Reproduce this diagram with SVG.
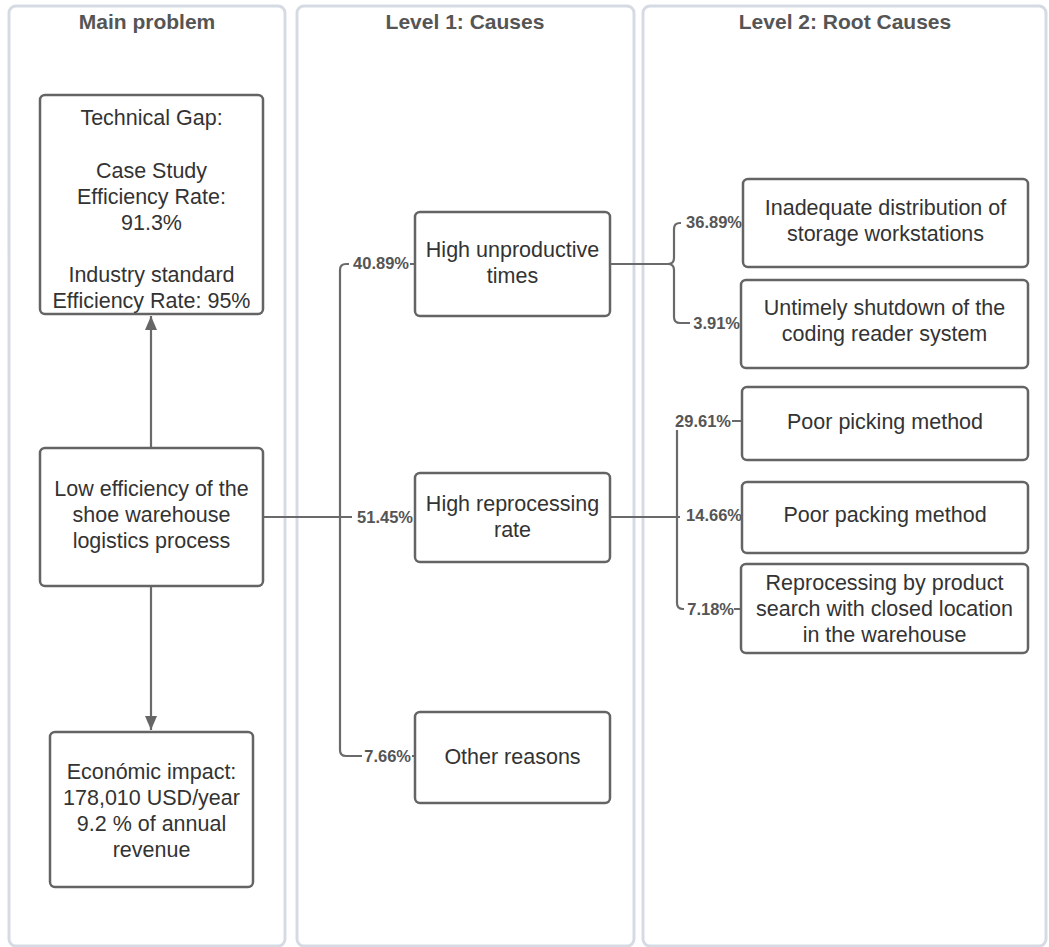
<svg xmlns="http://www.w3.org/2000/svg" width="1049" height="947" viewBox="0 0 1049 947">
<defs>
<style>
.lane{fill:#fff;stroke:#d6dbe3;stroke-width:3}
.hdr{font-family:"Liberation Sans",Arial,sans-serif;font-weight:bold;font-size:21px;fill:#555;text-anchor:middle}
.box{fill:#fff;stroke:#646464;stroke-width:2.5}
.t{font-family:"Liberation Sans",Arial,sans-serif;font-size:21.5px;fill:#333;text-anchor:middle}
.ln{fill:none;stroke:#6a6a6a;stroke-width:2.2}
.lb{font-family:"Liberation Sans",Arial,sans-serif;font-weight:bold;font-size:16.5px;fill:#555;text-anchor:end}
.lbg{fill:#fff}
</style>
<marker id="ah" viewBox="0 0 14 12" refX="14" refY="6" markerWidth="14" markerHeight="12" markerUnits="userSpaceOnUse" orient="auto">
<path d="M0,0 L14,6 L0,12 z" fill="#666"/>
</marker>
</defs>
<rect width="1049" height="947" fill="#fff"/>
<g id="lanes">
<rect class="lane" x="9" y="6" width="276" height="940" rx="7"/>
<rect class="lane" x="297" y="6" width="337" height="940" rx="7"/>
<rect class="lane" x="643" y="6" width="403" height="940" rx="7"/>
<text class="hdr" x="147" y="29">Main problem</text>
<text class="hdr" x="465" y="29">Level 1: Causes</text>
<text class="hdr" x="845" y="29">Level 2: Root Causes</text>
</g>
<g id="connectors">
<line class="ln" x1="151" y1="448" x2="151" y2="316" marker-end="url(#ah)"/>
<line class="ln" x1="151" y1="586" x2="151" y2="730" marker-end="url(#ah)"/>
<path class="ln" d="M263,517 H415"/>
<path class="ln" d="M415,264 H346 Q340,264 340,270 V750 Q340,756 346,756 H415"/>
<path class="ln" d="M610,264 H668 Q674,264 674,258 V229 Q674,223 680,223 H743"/>
<path class="ln" d="M668,264 Q674,264 674,270 V317 Q674,323 680,323 H741"/>
<path class="ln" d="M610,517 H742"/>
<path class="ln" d="M677,517 V427 Q677,421 683,421 H742"/>
<path class="ln" d="M677,517 V603 Q677,609 683,609 H741"/>
<rect class="lbg" x="349" y="255" width="61" height="17"/>
<text class="lb" x="409" y="269">40.89%</text>
<rect class="lbg" x="352" y="509" width="62" height="17"/>
<text class="lb" x="413" y="523">51.45%</text>
<rect class="lbg" x="362" y="748" width="50" height="17"/>
<text class="lb" x="411" y="762">7.66%</text>
<rect class="lbg" x="681" y="214" width="61" height="17"/>
<text class="lb" x="742" y="228">36.89%</text>
<rect class="lbg" x="690" y="315" width="50" height="17"/>
<text class="lb" x="740" y="329">3.91%</text>
<rect class="lbg" x="671" y="413" width="61" height="17"/>
<text class="lb" x="731" y="427">29.61%</text>
<rect class="lbg" x="680" y="507" width="62" height="17"/>
<text class="lb" x="742" y="521">14.66%</text>
<rect class="lbg" x="684" y="601" width="50" height="17"/>
<text class="lb" x="734" y="615">7.18%</text>
</g>
<g id="n-gap">
<rect class="box" x="40" y="95" width="223" height="219" rx="5"/>
<text class="t" x="151.5" y="125">Technical Gap:</text>
<text class="t" x="151.5" y="178">Case Study</text>
<text class="t" x="151.5" y="204">Efficiency Rate:</text>
<text class="t" x="151.5" y="230">91.3%</text>
<text class="t" x="151.5" y="282">Industry standard</text>
<text class="t" x="151.5" y="308">Efficiency Rate: 95%</text>
</g>
<g id="n-low">
<rect class="box" x="40" y="448" width="223" height="138" rx="5"/>
<text class="t" x="151.5" y="496">Low efficiency of the</text>
<text class="t" x="151.5" y="522">shoe warehouse</text>
<text class="t" x="151.5" y="548">logistics process</text>
</g>
<g id="n-econ">
<rect class="box" x="50" y="732" width="203" height="155" rx="5"/>
<text class="t" x="151.5" y="779">Económic impact:</text>
<text class="t" x="151.5" y="805">178,010 USD/year</text>
<text class="t" x="151.5" y="831">9.2 % of annual</text>
<text class="t" x="151.5" y="857">revenue</text>
</g>
<g id="n-unprod">
<rect class="box" x="415" y="212" width="195" height="104" rx="5"/>
<text class="t" x="512.5" y="257">High unproductive</text>
<text class="t" x="512.5" y="283">times</text>
</g>
<g id="n-reproc">
<rect class="box" x="415" y="473" width="195" height="89" rx="5"/>
<text class="t" x="512.5" y="511">High reprocessing</text>
<text class="t" x="512.5" y="537">rate</text>
</g>
<g id="n-other">
<rect class="box" x="415" y="712" width="195" height="91" rx="5"/>
<text class="t" x="512.5" y="764">Other reasons</text>
</g>
<g id="n-inadequate">
<rect class="box" x="743" y="179" width="285" height="88" rx="5"/>
<text class="t" x="885.5" y="215">Inadequate distribution of</text>
<text class="t" x="885.5" y="241">storage workstations</text>
</g>
<g id="n-untimely">
<rect class="box" x="741" y="280" width="287" height="88" rx="5"/>
<text class="t" x="884.5" y="315">Untimely shutdown of the</text>
<text class="t" x="884.5" y="341">coding reader system</text>
</g>
<g id="n-picking">
<rect class="box" x="742" y="387" width="286" height="73" rx="5"/>
<text class="t" x="885" y="429">Poor picking method</text>
</g>
<g id="n-packing">
<rect class="box" x="742" y="482" width="286" height="71" rx="5"/>
<text class="t" x="885" y="522">Poor packing method</text>
</g>
<g id="n-search">
<rect class="box" x="741" y="564" width="287" height="89" rx="5"/>
<text class="t" x="884.5" y="590">Reprocessing by product</text>
<text class="t" x="884.5" y="616">search with closed location</text>
<text class="t" x="884.5" y="642">in the warehouse</text>
</g>
</svg>
